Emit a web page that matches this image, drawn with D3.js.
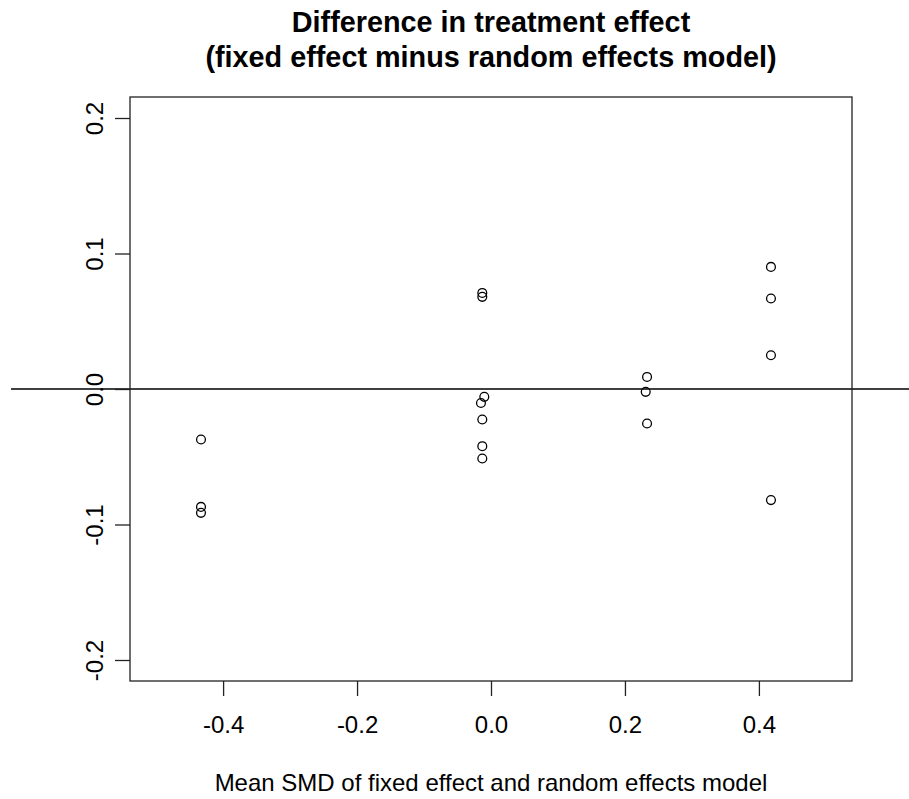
<!DOCTYPE html>
<html>
<head>
<meta charset="utf-8">
<script src="https://cdn.jsdelivr.net/npm/d3@7"></script>
<style>
  body { margin: 0; background: #fff; }
  svg text { font-family: "Liberation Sans", Arial, sans-serif; fill: #000; }
</style>
</head>
<body>
<div id="chart"></div>
<script>
// mean SMD (x) and difference fixed minus random (y)
const meanSmd = [
  -0.433, -0.433, -0.433,
  -0.013, -0.013, -0.010, -0.015, -0.013, -0.013, -0.013,
  0.233, 0.231, 0.233,
  0.418, 0.418, 0.418, 0.418
];
const diffEffect = [
  -0.0373, -0.0870, -0.0914,
  0.0709, 0.0680, -0.0058, -0.0103, -0.0225, -0.0422, -0.0513,
  0.0089, -0.0021, -0.0255,
  0.0901, 0.0668, 0.0249, -0.0820
];
const xTicks = [-0.4, -0.2, 0.0, 0.2, 0.4];
const yTicks = [-0.2, -0.1, 0.0, 0.1, 0.2];
const titleLines = ["Difference in treatment effect", "(fixed effect minus random effects model)"];
const xLabel = "Mean SMD of fixed effect and random effects model";

const width = 909, height = 799;
const margin = { top: 97, right: 57, bottom: 118, left: 130 };
const fontAxis = 24, fontTitle = 28.8;
const fmt = d => d.toFixed(1);   // plain hyphen like base R

const svg = d3.select("#chart").append("svg")
    .attr("width", width)
    .attr("height", height);

const x = d3.scaleLinear()
    .domain([-0.539, 0.539])
    .range([margin.left, width - margin.right]);

const y = d3.scaleLinear()
    .domain([-0.2155, 0.2155])
    .range([height - margin.bottom, margin.top]);

// horizontal reference line at zero, drawn across whole figure
svg.append("line")
    .attr("x1", 11).attr("x2", width)
    .attr("y1", y(0)).attr("y2", y(0))
    .attr("stroke", "#000")
    .attr("stroke-width", 1.3);

// plot box
svg.append("rect")
    .attr("x", margin.left)
    .attr("y", margin.top)
    .attr("width", width - margin.left - margin.right)
    .attr("height", height - margin.top - margin.bottom)
    .attr("fill", "none")
    .attr("stroke", "#222")
    .attr("stroke-width", 1.3);

// x axis
const xAxis = svg.append("g")
    .attr("transform", `translate(0,${height - margin.bottom})`)
    .call(d3.axisBottom(x).tickValues(xTicks).tickFormat(fmt).tickSize(15));
xAxis.select(".domain").remove();
xAxis.selectAll("line").attr("stroke", "#222").attr("stroke-width", 1.3);
xAxis.selectAll("text")
    .attr("font-size", fontAxis)
    .attr("font-family", "Liberation Sans, Arial, sans-serif")
    .attr("dy", null)
    .attr("y", 52);

// y axis, labels rotated like base R
const yAxis = svg.append("g")
    .attr("transform", `translate(${margin.left},0)`)
    .call(d3.axisLeft(y).tickValues(yTicks).tickFormat(fmt).tickSize(15));
yAxis.select(".domain").remove();
yAxis.selectAll("line").attr("stroke", "#222").attr("stroke-width", 1.3);
yAxis.selectAll("text")
    .attr("font-size", fontAxis)
    .attr("font-family", "Liberation Sans, Arial, sans-serif")
    .attr("x", null).attr("dy", null)
    .attr("text-anchor", "middle")
    .attr("transform", "translate(-27,0) rotate(-90)");

// points
svg.append("g")
    .selectAll("circle")
    .data(meanSmd.map((d, i) => ({ x: d, y: diffEffect[i] })))
    .enter().append("circle")
    .attr("cx", d => x(d.x))
    .attr("cy", d => y(d.y))
    .attr("r", 4.4)
    .attr("fill", "none")
    .attr("stroke", "#000")
    .attr("stroke-width", 1.3);

// title
const cx = (margin.left + width - margin.right) / 2;
svg.selectAll(".title")
    .data(titleLines)
    .enter().append("text")
    .attr("class", "title")
    .attr("x", cx)
    .attr("y", (d, i) => 32 + i * 35)
    .attr("text-anchor", "middle")
    .attr("font-size", fontTitle)
    .attr("font-weight", "bold")
    .text(d => d);

svg.append("text")
    .attr("x", cx)
    .attr("y", 791)
    .attr("text-anchor", "middle")
    .attr("font-size", fontAxis)
    .text(xLabel);
</script>
</body>
</html>
